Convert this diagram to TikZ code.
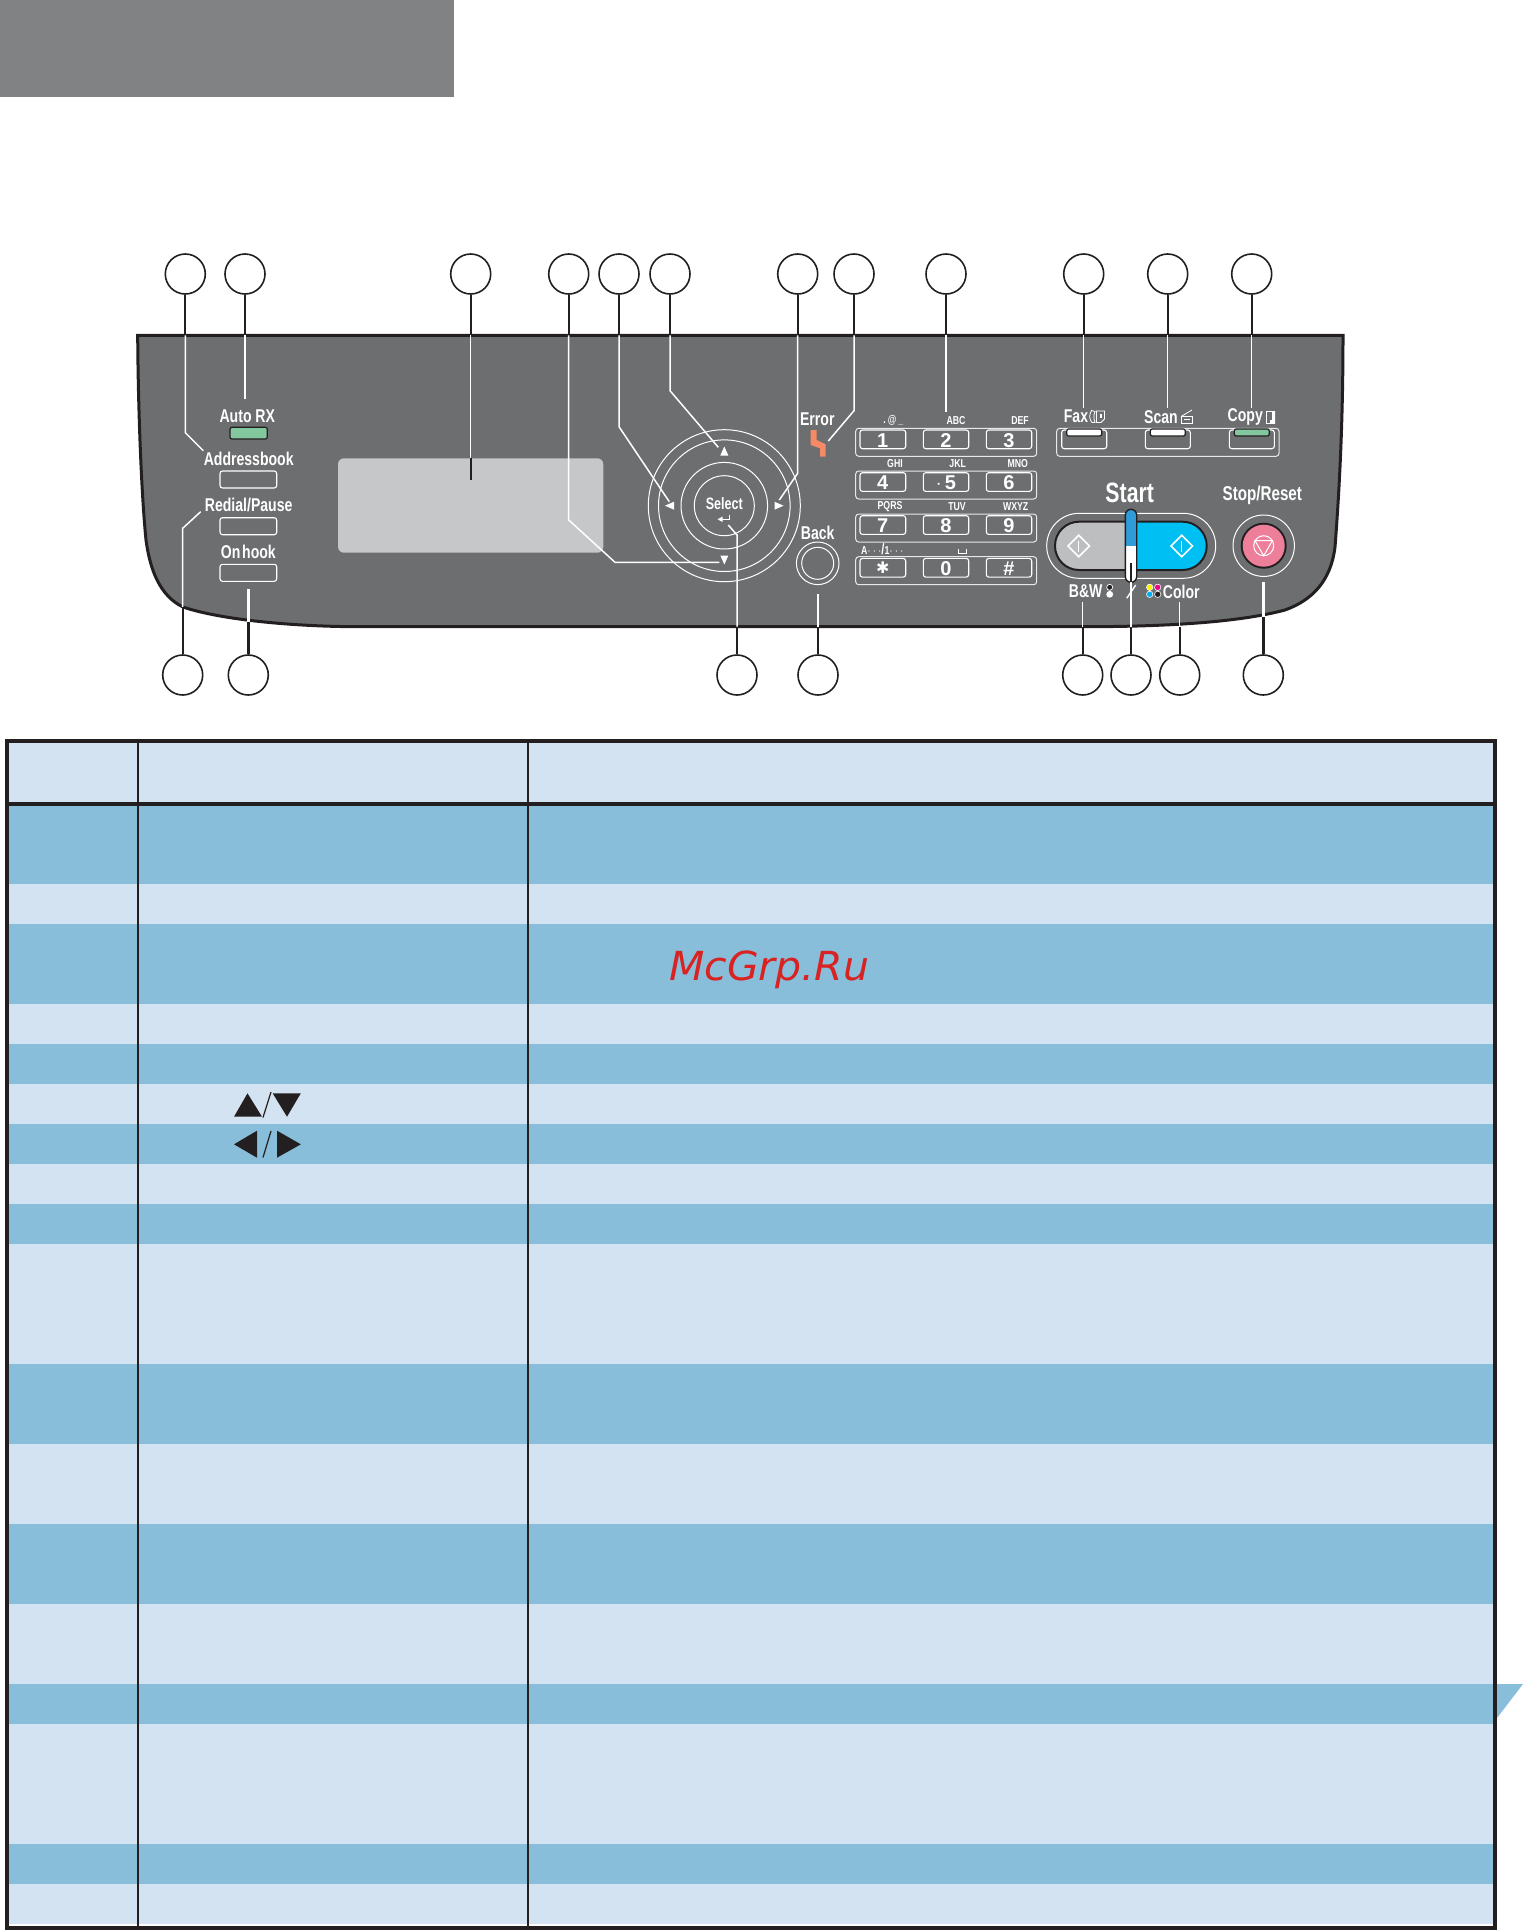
\documentclass[tikz,border=0pt]{standalone}
\usepackage{fontspec}
\setmainfont{Liberation Sans}
\newfontfamily\pf[FakeStretch=0.76]{Liberation Sans}
\newfontfamily\djfont{DejaVu Sans}
\definecolor{panelgray}{HTML}{6D6E70}
\definecolor{ink}{HTML}{231F20}
\definecolor{lightrow}{HTML}{D3E3F2}
\definecolor{darkrow}{HTML}{88BED9}
\definecolor{dispgray}{HTML}{C6C7C9}
\definecolor{ledgreen}{HTML}{82C79D}
\definecolor{errorange}{HTML}{F58A67}
\definecolor{startgray}{HTML}{BCBEC0}
\definecolor{startcyan}{HTML}{00BFF3}
\definecolor{sliderblue}{HTML}{2F9BD8}
\definecolor{stoppink}{HTML}{EE7F9B}
\definecolor{headgray}{HTML}{818284}
\definecolor{wmred}{HTML}{D92323}
\tikzset{
 callout/.style={circle,draw=ink,line width=1.6pt,fill=white,minimum size=40pt,inner sep=0pt},
 lk/.style={draw=ink,line width=2.1pt},
 lw/.style={draw=white,line width=1.5pt},
 lkthick/.style={draw=ink,line width=2.8pt},
 lwthick/.style={draw=white,line width=2.4pt},
 wl/.style={draw=white,line width=1pt},
 keybox/.style={draw=white,line width=1.1pt,rounded corners=2.5pt},
 rowbox/.style={draw=white!85!panelgray,line width=1pt,rounded corners=3pt},
 lbl/.style={text=white,inner sep=0pt,font=\pf\bfseries\fontsize{18.5}{20}\selectfont},
 sml/.style={text=white,inner sep=0pt,font=\pf\bfseries\fontsize{11.5}{13}\selectfont},
 dig/.style={text=white,inner sep=0pt,font=\bfseries\fontsize{20}{22}\selectfont},
 tabline/.style={draw=ink,line width=2.4pt},
 tabouter/.style={draw=ink,line width=3.8pt},
 led/.style={draw=ink,line width=1.2pt,rounded corners=2pt},
}
\begin{document}
\begin{tikzpicture}[x=1pt,y=-1pt]
\useasboundingbox (0,0) rectangle (1524,1930);
% header block
\fill[headgray] (0,0) rectangle (454,97);
% table rows
\fill[lightrow] (9,742) rectangle (1493,806);
\foreach \a/\b/\c in {806/884/darkrow,884/924/lightrow,924/1004/darkrow,1004/1044/lightrow,1044/1084/darkrow,1084/1124/lightrow,1124/1164/darkrow,1164/1204/lightrow,1204/1244/darkrow,1244/1364/lightrow,1364/1444/darkrow,1444/1524/lightrow,1524/1604/darkrow,1604/1684/lightrow,1684/1724/darkrow,1724/1844/lightrow,1844/1884/darkrow,1884/1924/lightrow}
  \fill[\c] (9,\a) rectangle (1493,\b);
\fill[darkrow] (1497,1684) -- (1523,1684) -- (1497,1718) -- cycle;
\draw[tabline] (137.8,742) -- (137.8,1926);
\draw[tabline] (528,742) -- (528,1926);
\draw[tabouter] (7,804) -- (1495,804);
\draw[tabouter] (7,1927.8) -- (7,740.7) -- (1495,740.7) -- (1495,1927.8) -- cycle;
% glyphs in the table
\fill[ink] (234,1116.7) -- (262,1116.7) -- (247.5,1093.3) -- cycle;
\fill[ink] (272.7,1093.3) -- (300.8,1093.3) -- (287,1116.7) -- cycle;
\draw[ink,line width=1.2pt] (263,1117.5) -- (271,1092);
\fill[ink] (234,1144.3) -- (257,1130.7) -- (257,1157.7) -- cycle;
\fill[ink] (300.8,1144.3) -- (277,1130.7) -- (277,1157.7) -- cycle;
\draw[ink,line width=1.2pt] (263,1157.5) -- (271,1131);
\node[anchor=base west,inner sep=0pt,text=wmred,xscale=1.025,font=\djfont\itshape\fontsize{40}{42}\selectfont] (wm) at (669,980) {McGrp.Ru};
% panel
\draw[fill=panelgray,draw=ink,line width=3pt]
 (137.7,335.3) -- (1343,335.3)
 .. controls (1343,400) and (1341,470) .. (1335,547)
 .. controls (1331,580) and (1313,600) .. (1285,610)
 .. controls (1255,618) and (1200,626.5) .. (1087,626.7)
 -- (353,626.7)
 .. controls (280,626) and (215,618) .. (183,607)
 .. controls (160,596) and (150,570) .. (146,540)
 .. controls (141,490) and (138,400) .. (137.7,335.3) -- cycle;
% display
\fill[dispgray,rounded corners=6pt] (338,458.3) rectangle (603.3,552.7);
% left buttons
\draw[led,fill=ledgreen] (230,427.3) rectangle (267.3,439);
\draw[keybox] (220,471) rectangle (276.7,488);
\draw[keybox] (220,517.7) rectangle (276.7,534.7);
\draw[keybox] (220,564.3) rectangle (276.7,581.3);
\node[lbl] (lauto) at (247.3,416) {Auto RX};
\node[lbl] (laddr) at (248.7,458.7) {Addressbook};
\node[lbl] (lredial) at (248.7,505.3) {Redial/Pause};
\node[lbl] (lhook) at (248.3,552) {\spaceskip=.1em On hook};
% wheel
\foreach \r in {76,65.8,43.3,30} \draw[wl] (724.3,505.7) circle (\r);
\fill[white] (724.3,446.5) -- (728.3,455.5) -- (720.3,455.5) -- cycle;
\fill[white] (724.3,564.5) -- (728.3,555.5) -- (720.3,555.5) -- cycle;
\fill[white] (665,505.7) -- (674,501.7) -- (674,509.7) -- cycle;
\fill[white] (783.5,505.7) -- (774.5,501.7) -- (774.5,509.7) -- cycle;
\node[lbl,font=\pf\bfseries\fontsize{16.5}{18}\selectfont] (lsel) at (724.3,504) {Select};
\draw[white,line width=1pt] (729,514.5) -- (729,519.3) -- (721,519.3);
\fill[white] (717.5,519.3) -- (722.5,516.6) -- (722.5,522) -- cycle;
% error
\node[lbl] (lerr) at (817.3,419) {Error};
\fill[errorange] (810.7,430) -- (816.7,430) -- (816.7,440) -- (825.7,444.3) -- (825.7,456.7) -- (820,456.7) -- (820,448.3) -- (810.7,445) -- cycle;
% back
\node[lbl] (lback) at (817.7,532.7) {Back};
\draw[wl] (817.7,563.3) circle (21.3);
\draw[wl] (817.7,563.3) circle (16);
% keypad
\foreach \y in {428.3,471,514,556.7} {
 \draw[rowbox] (855.7,\y) rectangle (1036.7,\y+28);
 \draw[keybox,fill=panelgray] (860,\y+1.7) rectangle (905.7,\y+20.4);
 \draw[keybox,fill=panelgray] (923.3,\y+1.7) rectangle (968.7,\y+20.4);
 \draw[keybox,fill=panelgray] (986.3,\y+1.7) rectangle (1031.7,\y+20.4);
}
\node[dig] (k1) at (882.7,440.2) {1};
\node[dig] (k2) at (946,440.2) {2};
\node[dig] (k3) at (1009,440.2) {3};
\node[dig] (k4) at (882.7,482.9) {4};
\node[dig] (k5) at (946,482.9) {\fontsize{20}{22}\selectfont$\cdot$\,5};
\node[dig] (k6) at (1009,482.9) {6};
\node[dig] (k7) at (882.7,525.9) {7};
\node[dig] (k8) at (946,525.9) {8};
\node[dig] (k9) at (1009,525.9) {9};
\node[dig,font=\djfont\fontsize{16}{18}\selectfont] (kstar) at (882.7,568) {✱};
\node[dig] (k0) at (946,568.6) {0};
\node[dig] (khash) at (1009,568.6) {\#};
\node[sml] (s1) at (893.3,420.7) {.\,@\,\_};
\node[sml] (s2) at (956,420.7) {ABC};
\node[sml] (s3) at (1020,420.7) {DEF};
\node[sml] (s4) at (895,464) {GHI};
\node[sml] (s5) at (957.7,464) {JKL};
\node[sml] (s6) at (1017.7,464) {MNO};
\node[sml] (s7) at (890,507) {PQRS};
\node[sml] (s8) at (957,507) {TUV};
\node[sml] (s9) at (1015.7,507) {WXYZ};
\node[sml] (s10) at (882.3,549.7) {A$\cdots$\fontsize{15}{15}\selectfont/\fontsize{11.5}{13}\selectfont 1$\cdots$};
\draw[white,line width=.9pt] (958.2,549) -- (958.2,553) -- (966.5,553) -- (966.5,549);
% mode row
\draw[rowbox] (1056.7,428.3) rectangle (1279,456.3);
\foreach \x/\c in {1061.7/white,1145.3/white,1229.3/ledgreen} {
 \draw[keybox,fill=panelgray] (\x,430) rectangle (\x+45,448.7);
 \draw[led,fill=\c] (\x+5,429) rectangle (\x+40,436);
}
\node[lbl] (lfax) at (1076,416.7) {Fax};
\node[lbl] (lscan) at (1161,416.7) {Scan};
\node[lbl] (lcopy) at (1245.3,416.7) {Copy};
% fax icon
\draw[white,line width=.8pt] (1091.5,410.5) .. controls (1089,415) and (1089,419) .. (1092,422.5) -- (1095,422.5) .. controls (1093.5,419) and (1093.5,415) .. (1095,411.5) -- cycle;
\draw[white,line width=.8pt] (1096.5,411) -- (1104.5,411) -- (1104.5,419) -- (1101,422.5) -- (1096.5,422.5) -- cycle;
\fill[white] (1100,414) rectangle (1102,418);
% scan icon
\draw[white,line width=.8pt] (1181,416.5) -- (1192,410);
\draw[white,line width=.8pt] (1181,416.5) rectangle (1192,423);
\draw[white,line width=.8pt] (1184,419.8) -- (1189.5,419.8);
% copy icon
\draw[white,line width=.9pt,fill=panelgray] (1266,411.5) rectangle (1274.5,423);
\fill[white] (1270,423.5) -- (1275,423.5) -- (1275,411) -- (1272,411) -- (1272,420) -- (1270,420) -- cycle;
% start
\node[lbl,font=\pf\bfseries\fontsize{28}{30}\selectfont] (lstart) at (1129.7,493.3) {Start};
\node[lbl,font=\pf\bfseries\fontsize{20}{22}\selectfont] (lstop) at (1262.3,495.7) {Stop/Reset};
\draw[wl,rounded corners=32.4pt] (1046.7,513.3) rectangle (1215.7,578.3);
\begin{scope}
 \clip[rounded corners=24pt] (1055,521.7) rectangle (1206.7,570);
 \fill[startgray] (1055,521.7) rectangle (1131,570);
 \fill[startcyan] (1131,521.7) rectangle (1206.7,570);
\end{scope}
\draw[draw=ink,line width=2pt,rounded corners=24pt] (1055,521.7) rectangle (1206.7,570);
\foreach \x in {1078.7,1181.7} {
 \draw[white,line width=1.6pt] (\x,535.3) -- (\x+10.7,546) -- (\x,556.7) -- (\x-10.7,546) -- cycle;
 \draw[white,line width=1.4pt] (\x,540.5) -- (\x,551.5);
}
\begin{scope}
 \clip[rounded corners=5.7pt] (1125.3,509.3) rectangle (1136.7,582.3);
 \fill[sliderblue] (1125.3,509.3) rectangle (1136.7,545.7);
 \fill[white] (1125.3,545.7) rectangle (1136.7,582.3);
\end{scope}
\draw[draw=ink,line width=1.4pt,rounded corners=5.7pt] (1125.3,509.3) rectangle (1136.7,582.3);
% stop
\draw[wl] (1263.7,545.7) circle (30.7);
\fill[ink] (1263.7,545.7) circle (23);
\fill[stoppink] (1263.7,545.7) circle (21);
\draw[white,line width=1pt] (1263.7,545.7) circle (10);
\draw[white,line width=1pt] (1255,540.7) -- (1272.4,540.7) -- (1263.7,555.7) -- cycle;
% B&W / colour
\node[lbl] (lbw) at (1085.7,591) {B\&W};
\fill[ink] (1109.7,587.3) circle (3);
\draw[white,line width=.7pt] (1109.7,587.3) circle (3);
\fill[white] (1109.7,594.3) circle (3.4);
\draw[white,line width=1.4pt] (1126.7,598.3) -- (1135.7,585);
\fill[yellow] (1149.7,587.3) circle (3.2);
\fill[magenta] (1157.7,587.3) circle (3.2);
\fill[cyan] (1149.7,594.3) circle (3.2);
\fill[ink] (1157.7,594.3) circle (3.2);
\draw[white,line width=.6pt] (1149.7,594.3) circle (3.2) (1157.7,594.3) circle (3.2) (1149.7,587.3) circle (3.2) (1157.7,587.3) circle (3.2);
\node[lbl] (lcol) at (1181.3,591.5) {Color};
% callouts top
\foreach \n/\x in {ta/185.3,tb/245,tc/470.7,td/568.7,te/619,tf/670,tg/797.7,th/854,ti/946,tj/1083.7,tk/1167.7,tl/1251.7}
 { \node[callout] (\n) at (\x,274) {}; \coordinate (\n-p) at (\x,335.3); }
\foreach \n/\x in {ba/182.7,bb/248.3,bc/737,bd/818,be/1082.7,bf/1131,bg/1179.7,bh/1263.3}
 { \node[callout] (\n) at (\x,675) {}; }
\coordinate (ba-p) at (182.7,607);
\coordinate (bb-p) at (248.3,621.7);
\coordinate (bc-p) at (737,626.7);
\coordinate (bd-p) at (818,626.7);
\coordinate (be-p) at (1082.7,626.7);
\coordinate (bf-p) at (1131,626.7);
\coordinate (bg-p) at (1179.7,626.7);
\coordinate (bh-p) at (1263.3,616.7);
% white parts
\draw[lw] (ta-p) -- (185.3,432.7) -- (203.3,450.7);
\draw[lw] (tb-p) -- (245,399.3);
\draw[lw] (tc-p) -- (470.7,458.3);
\draw[lk] (470.7,458.3) -- (470.7,480);
\draw[lw] (td-p) -- (568.7,520) -- (615,562.3) -- (719.3,562.3);
\draw[lw] (te-p) -- (619,426.7) -- (669.3,501.7);
\draw[lw] (tf-p) -- (670,390.7) -- (718.3,447.3);
\draw[lw] (tg-p) -- (797.7,473.3) -- (779.3,500);
\draw[lw] (th-p) -- (854,410.7) -- (828.3,441);
\draw[lw] (ti-p) -- (946,411.7);
\draw[lw] (tj-p) -- (1083.7,408);
\draw[lw] (tk-p) -- (1167.7,408);
\draw[lw] (tl-p) -- (1251.7,408);
\draw[lw] (ba-p) -- (182.7,528.3) -- (200.7,511.7);
\draw[lwthick] (bb-p) -- (248.3,589.3);
\draw[lw] (bc-p) -- (737,535) -- (728.3,525);
\draw[lw] (bd-p) -- (818,594);
\draw[lw] (be-p) -- (1082.7,601.7);
\draw[lw] (bf-p) -- (1131,582.3);
\draw[lk,line width=1.2pt] (1131,582.3) -- (1131,563.3);
\draw[lw] (bg-p) -- (1179.7,601.7);
\draw[lwthick] (bh-p) -- (1263.3,581.7);
% black parts
\foreach \n in {ta,tb,tc,td,te,tf,tg,th,ti,tj,tk,tl}
 \draw[lk] (\n) -- (\n-p);
\foreach \n in {ba,bc,bd,be,bf,bg}
 \draw[lk] (\n) -- (\n-p);
\foreach \n in {bb,bh}
 \draw[lkthick] (\n) -- (\n-p);
\end{tikzpicture}
\end{document}
